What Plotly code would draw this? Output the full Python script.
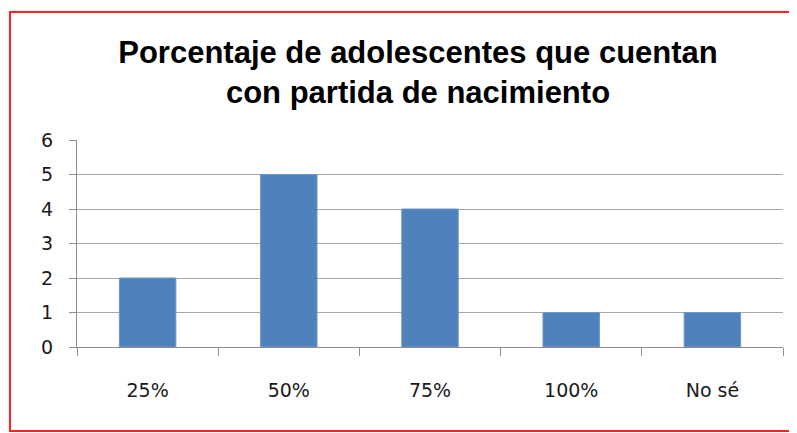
import plotly.graph_objects as go

# --- Data ---
categorias = ["25%", "50%", "75%", "100%", "No sé"]
valores = [2, 5, 4, 1, 1]
y_ticks = [0, 1, 2, 3, 4, 5, 6]

titulo = "Porcentaje de adolescentes que cuentan<br>con partida de nacimiento"

# the page body has an 8px margin, so the figure is drawn 8px smaller
# and all target pixel positions are shifted by that offset
OFF = 8
FW, FH = 797 - OFF, 433 - OFF

# plot area in page pixels: x 77..783, y 140..347
L, R = 77 - OFF, 797 - 783
T, B = 140 - OFF, 433 - 347
W = FW - L - R
H = FH - T - B


def px_x(x):
    return (x - OFF - L) / W


def px_y(y):
    return (T + H - (y - OFF)) / H


fig = go.Figure()
fig.add_trace(go.Bar(
    x=categorias, y=valores,
    marker=dict(color="#4F81BD", line=dict(color="#6f97c9", width=1)),
))

fig.update_layout(
    width=FW, height=FH,
    margin=dict(l=L, r=R, t=T, b=B),
    paper_bgcolor="white", plot_bgcolor="white",
    showlegend=False,
    bargap=0.6,
    title=dict(
        text=titulo, x=px_x(418), xref="paper", xanchor="center",
        y=1 - 55 / FH, yanchor="top",
        font=dict(family="Liberation Sans, Arial", size=31, color="black", weight="bold"),
    ),
    font=dict(family="DejaVu Sans, Calibri, sans-serif", size=19, color="#1a1a1a"),
)

fig.update_xaxes(
    type="category",
    showline=True, linecolor="#8c8c8c", linewidth=1,
    ticks="outside", tickson="boundaries", ticklen=8, tickcolor="#8c8c8c",
    ticklabelstandoff=26,
    showgrid=False,
    tickfont=dict(size=19),
)
fig.update_yaxes(
    range=[0, 6], tickvals=y_ticks,
    showline=True, linecolor="#8c8c8c", linewidth=1,
    ticks="outside", ticklen=7, tickcolor="#8c8c8c",
    ticklabelstandoff=12,
    showgrid=True, gridcolor="#a6a6a6", gridwidth=1,
    zeroline=False,
    tickfont=dict(size=19),
)

# red frame around the chart
fig.add_shape(
    type="rect", xref="paper", yref="paper",
    x0=px_x(10), x1=px_x(805), y0=px_y(431), y1=px_y(12),
    line=dict(color="#ff2020", width=2), layer="above",
)

fig.write_html("out.html")
